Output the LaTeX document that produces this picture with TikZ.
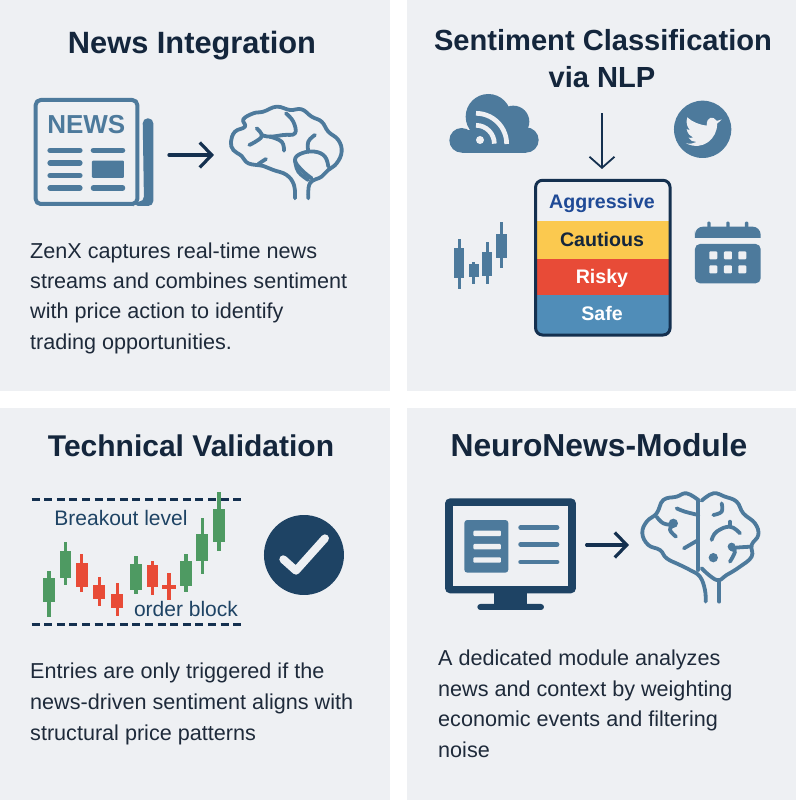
\documentclass[tikz,border=0pt]{standalone}
\usepackage{fontspec}
\setmainfont{Liberation Sans}
\usetikzlibrary{arrows.meta}
\definecolor{panelbg}{HTML}{EEF0F3}
\definecolor{iconblue}{HTML}{4D7A9C}
\definecolor{navy}{HTML}{14304F}
\definecolor{titlecol}{HTML}{14263C}
\definecolor{bodycol}{HTML}{1E2A3A}
\definecolor{deepblue}{HTML}{1E4364}
\definecolor{gcandle}{HTML}{4E9A62}
\definecolor{rcandle}{HTML}{E84B37}
\definecolor{bandyellow}{HTML}{FBC94F}
\definecolor{bandblue}{HTML}{508DB8}
\definecolor{aggr}{HTML}{1F4A96}
\newcommand{\titlefont}[1]{\fontsize{#1}{32}\selectfont\bfseries}
\tikzset{
  panel/.style={fill=panelbg,draw=none},
  titletext/.style={text=titlecol,inner sep=0pt,anchor=base},
  bodytext/.style={font=\fontsize{21.6}{24}\selectfont,text=bodycol,inner sep=0pt,anchor=base west},
  labeltext/.style={font=\fontsize{21}{24}\selectfont,inner sep=0pt,anchor=base},
  bandtext/.style={font=\fontsize{19.6}{24}\selectfont\bfseries,inner sep=0pt,anchor=base},
  brainline/.style={draw=iconblue,line width=3.8pt,line cap=round,line join=round},
  flowarrow/.style={draw=navy,line width=3.2pt,line cap=round,-{Straight Barb[length=12pt,width=25pt,line width=3.2pt]}},
  downarrow/.style={draw=navy,line width=1.8pt,-{Straight Barb[length=11pt,width=25pt,line width=1.8pt]}},
  iconline/.style={draw=iconblue,line width=5.2pt,line cap=round},
  levelline/.style={draw=navy,line width=3pt,dash pattern=on 8pt off 4.6pt},
  zoomA/.style={shift={(0pt,-80pt)},x=0.3333pt,y=-0.3333pt},
  zoomB/.style={shift={(420pt,-80pt)},x=0.3333pt,y=-0.3333pt},
  zoomC/.style={shift={(10pt,-480pt)},x=0.3333pt,y=-0.3333pt},
  zoomD/.style={shift={(430pt,-480pt)},x=0.3333pt,y=-0.3333pt},
}
% x, wick top, wick bottom, body top, body bottom, colour, body half-width
\newcommand{\candlemark}[7]{%
  \fill[#6] (#1-5,#2) rectangle (#1+5,#3);
  \fill[#6] (#1-#7,#4) rectangle (#1+#7,#5);}
\begin{document}
\begin{tikzpicture}[x=1pt,y=-1pt]
\useasboundingbox (0,0) rectangle (796,800);
\fill[white] (0,0) rectangle (796,800);
\fill[panel] (0,0) rectangle (390,391);
\fill[panel] (407,0) rectangle (796,391);
\fill[panel] (0,408) rectangle (390,800);
\fill[panel] (407,408) rectangle (796,800);

% titles
\node[titletext,font=\titlefont{30.8}] (t1) at (192,53) {News Integration};
\node[titletext,font=\titlefont{29.1}] (t2a) at (603,51) {Sentiment Classification};
\node[titletext,font=\titlefont{29.1}] (t2b) at (602,87) {via NLP};
\node[titletext,font=\titlefont{30}] (t3) at (191,456) {Technical Validation};
\node[titletext,font=\titlefont{31.8}] (t4) at (599,456) {NeuroNews-Module};

% body texts
\node[bodytext] (b1a) at (30,258) {ZenX captures real-time news};
\node[bodytext] (b1b) at (30,288) {streams and combines sentiment};
\node[bodytext] (b1c) at (30,318) {with price action to identify};
\node[bodytext] (b1d) at (30,349) {trading opportunities.};
\node[bodytext] (b3a) at (30,678) {Entries are only triggered if the};
\node[bodytext] (b3b) at (30,709) {news-driven sentiment aligns with};
\node[bodytext] (b3c) at (30,740) {structural price patterns};
\node[bodytext] (b4a) at (438,665) {A dedicated module analyzes};
\node[bodytext] (b4b) at (438,696) {news and context by weighting};
\node[bodytext] (b4c) at (438,726) {economic events and filtering};
\node[bodytext] (b4d) at (438,757) {noise};

% ---------- panel 1 ----------
\begin{scope}[zoomA]
  \draw[iconblue,line width=4pt,rounded corners=5pt,line join=round]
    (107,60) -- (412,60) -- (412,372) -- (107,372) -- cycle;
  \fill[iconblue,rounded corners=5pt] (428,115) -- (460,115) -- (460,378) -- (400,378) -- (400,365) -- (432,365) -- cycle;
  \node[inner sep=0pt,text=iconblue,font=\fontsize{26}{26}\selectfont\bfseries] (newsword) at (259,135) {NEWS};
  \foreach \yy in {211,249,287,324} \draw[iconline] (150,\yy) -- (240,\yy);
  \draw[iconline] (280,211) -- (368,211);
  \draw[iconline] (280,324) -- (368,324);
  \fill[iconblue,rounded corners=1pt] (276,242) rectangle (372,294);
  \draw[brainline] plot[smooth,tension=.7] coordinates {(885,355) (882,315) (860,285) (820,270) (790,258) (745,250) (725,228) (700,210) (693,185) (705,155) (735,140) (730,118) (760,100) (790,95) (830,80) (870,90) (905,88) (935,110) (965,125) (985,155) (1015,180) (1025,215) (1010,250) (985,270) (965,290) (930,310) (925,355)};
  \draw[brainline] plot[smooth,tension=.7] coordinates {(935,295) (905,270) (885,240) (905,220) (945,215) (975,230) (985,260)};
  \draw[brainline] plot[smooth,tension=.7] coordinates {(945,165) (925,185) (925,215)};
  \draw[brainline] plot[smooth,tension=.7] coordinates {(885,240) (895,275) (925,300)};
  \draw[brainline] (775,252) -- (798,237);
  \draw[brainline] plot[smooth,tension=.7] coordinates {(858,100) (880,125) (885,160) (850,165) (810,170) (785,165)};
  \draw[brainline] plot[smooth,tension=.7] coordinates {(770,145) (785,170) (748,195)};
  \draw[brainline] plot[smooth,tension=.7] coordinates {(810,170) (845,185) (852,212)};
  \coordinate (a1s) at (507,225);
  \coordinate (a1e) at (642,225);
  \draw[flowarrow] (a1s) -- (a1e);
\end{scope}

% ---------- panel 2 ----------
\begin{scope}[zoomB]
  % cloud
  \fill[iconblue] (125,181) circle[radius=37];
  \fill[iconblue] (205,110) circle[radius=68];
  \fill[iconblue] (280,125) circle[radius=48];
  \fill[iconblue] (318,180) circle[radius=38];
  \fill[iconblue] (125,150) rectangle (318,218);
  \fill[panelbg] (180,180) circle[radius=12];
  \draw[panelbg,line width=4.7pt] (168,136) arc[start angle=-90,end angle=0,radius=55];
  \draw[panelbg,line width=4.7pt] (168,100) arc[start angle=-90,end angle=0,radius=92];
  % bird
  \fill[iconblue] (848,148) circle[radius=86];
  \fill[panelbg] (905,118) .. controls (895,122) and (893,122) .. (890,122) .. controls (880,108) and (860,108) .. (860,137)
    .. controls (840,135) and (815,125) .. (802,112) .. controls (795,130) and (805,145) .. (810,150)
    .. controls (805,150) and (802,148) .. (800,147) .. controls (802,160) and (810,168) .. (820,172)
    .. controls (815,174) and (810,174) .. (806,173) .. controls (810,182) and (820,186) .. (830,186)
    .. controls (820,191) and (810,192) .. (798,190) .. controls (850,215) and (892,175) .. (892,130)
    .. controls (897,127) and (902,122) .. (905,118) -- cycle;
  % candles
  \candlemark{118}{478}{628}{503}{595}{iconblue}{15}
  \candlemark{161}{545}{612}{553}{590}{iconblue}{15}
  \candlemark{202}{485}{612}{515}{588}{iconblue}{15}
  \candlemark{245}{425}{565}{462}{535}{iconblue}{17}
  % calendar
  \foreach \xx in {867,924,980} \fill[iconblue,rounded corners=1pt] (\xx-5,425) rectangle (\xx+5,445);
  \fill[iconblue] (825,474) -- (825,452) [rounded corners=8pt] -- (825,440) -- (1022,440) [sharp corners] -- (1022,474) -- cycle;
  \fill[iconblue,rounded corners=5pt] (825,492) -- (1022,492) -- (1022,610) -- (825,610) -- cycle;
  \foreach \xx in {880,924,967} \foreach \yy in {526,568}
    \fill[panelbg,rounded corners=1pt] (\xx-12,\yy-12) rectangle (\xx+12,\yy+12);
  % classification stack
  \begin{scope}
    \clip[rounded corners=7pt] (347,301) rectangle (750,765);
    \fill[bandyellow] (347,423) rectangle (750,537);
    \fill[rcandle] (347,537) rectangle (750,646);
    \fill[bandblue] (347,646) rectangle (750,765);
  \end{scope}
  \node[draw=navy,line width=3pt,rounded corners=7pt,minimum width=134.5pt,minimum height=154.7pt,inner sep=0pt] (stack) at (548.5,533) {};
  \node[bandtext,text=aggr] (l1) at (546,385) {Aggressive};
  \node[bandtext,text=titlecol] (l2) at (546,500) {Cautious};
  \node[bandtext,text=white] (l3) at (546,612) {Risky};
  \node[bandtext,text=white] (l4) at (546,721) {Safe};
  \coordinate (a2s) at (546,100);
  \coordinate (a2e) at (546,267);
  \draw[downarrow] (a2s) -- (a2e);
\end{scope}

% ---------- panel 3 ----------
\begin{scope}[zoomC]
  \coordinate (d1a) at (65,57); \coordinate (d1b) at (692,57);
  \coordinate (d2a) at (65,433); \coordinate (d2b) at (692,433);
  \draw[levelline] (d1a) -- (d1b);
  \draw[levelline] (d2a) -- (d2b);
  \candlemark{117}{272}{412}{293}{365}{gcandle}{17}
  \candlemark{167}{185}{315}{213}{295}{gcandle}{17}
  \candlemark{215}{222}{335}{248}{320}{rcandle}{18}
  \candlemark{268}{290}{378}{315}{357}{rcandle}{18}
  \candlemark{322}{310}{408}{343}{385}{rcandle}{18}
  \candlemark{378}{227}{343}{252}{330}{gcandle}{17}
  \candlemark{427}{243}{345}{255}{322}{rcandle}{17}
  \candlemark{477}{280}{360}{314}{327}{rcandle}{20}
  \candlemark{528}{222}{335}{243}{318}{gcandle}{18}
  \candlemark{577}{115}{283}{163}{242}{gcandle}{18}
  \candlemark{627}{35}{212}{87}{187}{gcandle}{18}
  \node[labeltext,text=deepblue] (brk) at (333,135) {Breakout level};
  \node[labeltext,text=deepblue] (ob) at (528,410) {order block};
  \fill[deepblue] (882,225) circle[radius=120];
  \draw[panelbg,line width=8pt,line cap=round,line join=round] (820,238) -- (858,272) -- (945,175);
\end{scope}

% ---------- panel 4 ----------
\begin{scope}[zoomD]
  \fill[deepblue,rounded corners=5pt] (45,55) rectangle (438,340);
  \fill[panelbg] (68,78) rectangle (415,317);
  \fill[deepblue] (192,335) rectangle (290,378);
  \fill[deepblue,rounded corners=3pt] (142,372) rectangle (342,390);
  \fill[iconblue,rounded corners=3pt] (103,120) rectangle (235,278);
  \foreach \yy in {160,200,240} \fill[panelbg,rounded corners=1pt] (130,\yy-8) rectangle (213,\yy+8);
  \foreach \yy in {143,193,246} \draw[iconblue,line width=4.8pt,line cap=round] (272,\yy) -- (381,\yy);
  \coordinate (a4s) at (470,195);
  \coordinate (a4e) at (597,195);
  \draw[flowarrow] (a4s) -- (a4e);
  \draw[brainline] (805,60) -- (805,270);
  \draw[brainline] plot[smooth,tension=.7] coordinates {(805,60) (770,40) (740,50) (700,60) (680,100) (650,125) (637,160) (655,195) (690,210) (710,235) (750,255) (780,270) (810,290) (825,330) (827,365)};
  \draw[brainline] plot[smooth,tension=.7] coordinates {(815,62) (850,40) (885,50) (920,65) (940,100) (975,130) (985,165) (965,195) (965,230) (930,260) (890,285) (860,300) (815,265)};
  \draw[brainline] (868,300) -- (868,365);
  \draw[brainline] plot[smooth,tension=.7] coordinates {(740,85) (765,95) (805,105)};
  \draw[brainline] plot[smooth,tension=.7] coordinates {(762,205) (805,180)};
  \draw[brainline] plot[smooth,tension=.7] coordinates {(680,110) (700,130) (730,135)};
  \draw[brainline] plot[smooth,tension=.7] coordinates {(730,135) (720,150) (738,170)};
  \fill[iconblue] (730,130) circle[radius=14];
  \draw[brainline] plot[smooth,tension=.7] coordinates {(850,105) (875,95) (875,70)};
  \draw[brainline] plot[smooth,tension=.7] coordinates {(845,180) (860,155) (900,140) (930,160)};
  \draw[brainline] (900,125) -- (900,140);
  \draw[brainline] plot[smooth,tension=.7] coordinates {(965,200) (905,205) (915,215) (900,245)};
  \fill[iconblue] (850,233) circle[radius=14];
  \fill[iconblue] (905,200) circle[radius=12];
\end{scope}
\end{tikzpicture}
\end{document}
